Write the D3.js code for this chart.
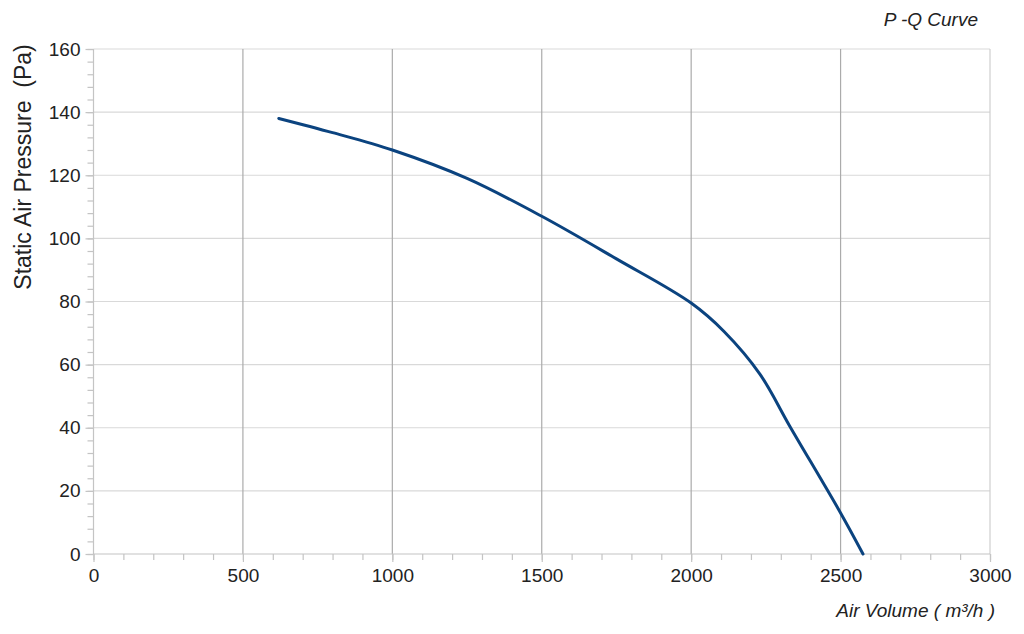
<!DOCTYPE html>
<html>
<head>
<meta charset="utf-8">
<script src="https://cdn.jsdelivr.net/npm/d3@7"></script>
<style>
  body { margin: 0; background: #fff; }
  text { font-family: "Liberation Sans", Arial, sans-serif; fill: #222; }
</style>
</head>
<body>
<div id="chart"></div>
<script>
// P-Q curve
const airVolume = [620, 800, 1000, 1250, 1500, 1750, 2000, 2110, 2230, 2330, 2500, 2575];
const pressure  = [138, 133.5, 128, 119, 107, 93.5, 79.5, 70.5, 57, 40.5, 13, 0];

const xTicks = [0, 500, 1000, 1500, 2000, 2500, 3000];
const yTicks = [0, 20, 40, 60, 80, 100, 120, 140, 160];

const width = 1024, height = 634;
const margin = {top: 49, right: 34, bottom: 80, left: 93.5};

const svg = d3.select('#chart')
    .append('svg')
    .attr('width', width)
    .attr('height', height);

const x = d3.scaleLinear().domain([0, 3000]).range([margin.left, width - margin.right]);
const y = d3.scaleLinear().domain([0, 160]).range([height - margin.bottom, margin.top]);

// horizontal grid (light)
svg.append('g')
    .selectAll('line')
    .data(yTicks.slice(1))
    .enter().append('line')
    .attr('x1', x(0)).attr('x2', x(3000))
    .attr('y1', d => y(d)).attr('y2', d => y(d))
    .attr('stroke', '#d9d9d9').attr('stroke-width', 1.2);

// vertical grid (darker)
svg.append('g')
    .selectAll('line')
    .data(xTicks.slice(1, -1))
    .enter().append('line')
    .attr('x1', d => x(d)).attr('x2', d => x(d))
    .attr('y1', y(0)).attr('y2', y(160))
    .attr('stroke', '#ababab').attr('stroke-width', 1.2);

// right border
svg.append('line')
    .attr('x1', x(3000)).attr('x2', x(3000))
    .attr('y1', y(0)).attr('y2', y(160))
    .attr('stroke', '#cfcfcf').attr('stroke-width', 1.2);

// y axis with minor ticks every 4
const yAxis = svg.append('g')
    .attr('transform', 'translate(' + x(0) + ',0)')
    .call(d3.axisLeft(y).tickValues(d3.range(0, 161, 4)).tickSize(6).tickFormat(''));
yAxis.selectAll('line, path').attr('stroke', '#c4c4c4').attr('stroke-width', 1.2);
yAxis.select('.domain').attr('d', 'M0,' + y(0) + 'V' + y(160));

const yMajor = svg.append('g')
    .attr('transform', 'translate(' + x(0) + ',0)')
    .call(d3.axisLeft(y).tickValues(yTicks).tickSize(8).tickPadding(5).tickFormat(d3.format('d')));
yMajor.select('.domain').remove();
yMajor.selectAll('line').attr('stroke', '#c4c4c4').attr('stroke-width', 1.2);
yMajor.selectAll('text')
    .style('font-family', '"Liberation Sans", Arial, sans-serif')
    .style('font-size', '19px').attr('fill', '#222');

// x axis with minor ticks every 100
const xAxis = svg.append('g')
    .attr('transform', 'translate(0,' + y(0) + ')')
    .call(d3.axisBottom(x).tickValues(d3.range(0, 3001, 100)).tickSize(6).tickFormat(''));
xAxis.selectAll('line, path').attr('stroke', '#c4c4c4').attr('stroke-width', 1.2);
xAxis.select('.domain').attr('d', 'M' + x(0) + ',0H' + x(3000));

const xMajor = svg.append('g')
    .attr('transform', 'translate(0,' + y(0) + ')')
    .call(d3.axisBottom(x).tickValues(xTicks).tickSize(8).tickPadding(7).tickFormat(d3.format('d')));
xMajor.select('.domain').remove();
xMajor.selectAll('line').attr('stroke', '#c4c4c4').attr('stroke-width', 1.2);
xMajor.selectAll('text')
    .style('font-family', '"Liberation Sans", Arial, sans-serif')
    .style('font-size', '19px').attr('fill', '#222');

// curve
const pts = airVolume.map((v, i) => [v, pressure[i]]);
svg.append('path')
    .datum(pts)
    .attr('fill', 'none')
    .attr('stroke', '#0b437f')
    .attr('stroke-width', 3)
    .attr('stroke-linecap', 'round')
    .attr('d', d3.line().x(d => x(d[0])).y(d => y(d[1])).curve(d3.curveCatmullRom.alpha(0.5)));

// titles
svg.append('text')
    .attr('transform', 'translate(31,167) rotate(-90)')
    .attr('text-anchor', 'middle')
    .style('font-size', '23px')
    .text('Static Air Pressure\u00a0\u00a0(Pa)');

svg.append('text')
    .attr('x', 995).attr('y', 617)
    .attr('text-anchor', 'end')
    .style('font-size', '19px')
    .style('font-style', 'italic')
    .text('Air Volume ( m\u00b3/h )');

svg.append('text')
    .attr('x', 978).attr('y', 26)
    .attr('text-anchor', 'end')
    .style('font-size', '19px')
    .style('font-style', 'italic')
    .text('P -Q Curve');
</script>
</body>
</html>
